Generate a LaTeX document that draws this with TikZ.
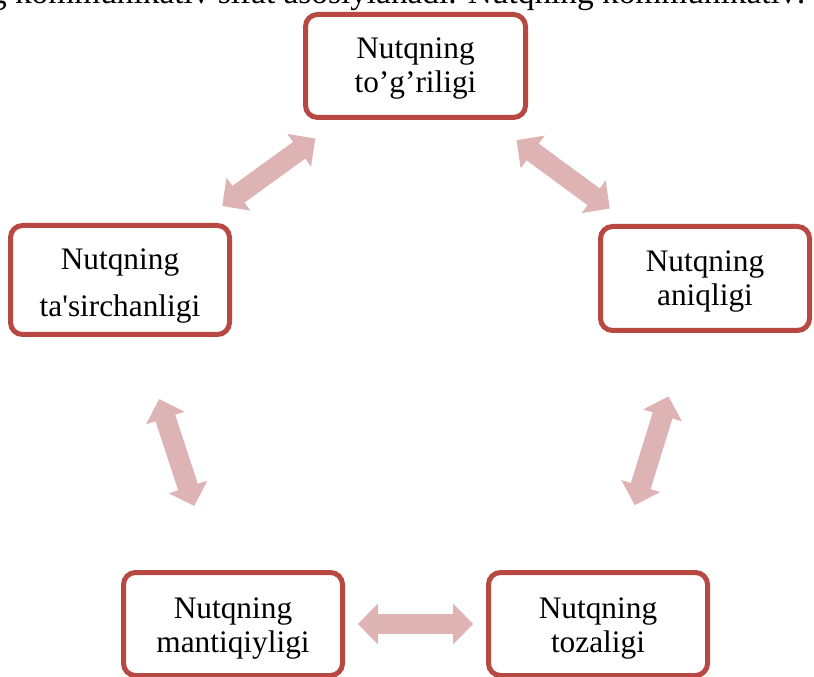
\documentclass[tikz,border=0pt]{standalone}
\usepackage{fontspec}
\setmainfont{Liberation Serif}
\newfontfamily\rawserif{Liberation Serif}
\usetikzlibrary{arrows.meta,calc}
\definecolor{boxred}{RGB}{183,72,66}
\definecolor{arrowpink}{RGB}{221,179,179}
\begin{document}
\begin{tikzpicture}[x=0.75pt,y=-0.75pt,
  box/.style={draw=boxred, line width=3.75pt, rounded corners=9pt, fill=white,
    align=center, inner sep=0pt, font=\fontsize{23.5}{25.5}\selectfont},
  fatarrow/.style={draw=arrowpink, line width=15.5pt,
    {Triangle[length=15pt,width=29.5pt]}-{Triangle[length=15pt,width=29.5pt]}}]
\useasboundingbox (0,0) rectangle (814,677);
\clip (0,0) rectangle (814,677);
\node[anchor=base east, inner sep=0pt, font=\fontsize{25}{27}\selectfont] (head) at (806,3.5)
  {nutqning kommunikativ sifat asosiylanadi. Nutqning kommunikativ:};
\node[box, minimum width=165pt, minimum height=77.25pt] (T) at (415.5,66)
  {\rule{0pt}{20pt}Nutqning\\to’g’riligi};
\node[box, minimum width=164.25pt, minimum height=81.75pt,
  font=\rawserif\fontsize{23.5}{35.25}\selectfont] (L) at (120,280)
  {\rule{0pt}{25pt}Nutqning\\ta'sirchanligi};
\node[box, minimum width=156.75pt, minimum height=78pt] (R) at (705,278.5)
  {\rule{0pt}{20pt}Nutqning\\aniqligi};
\node[box, minimum width=164.25pt, minimum height=77.25pt] (BL) at (233,624)
  {\rule{0pt}{23pt}Nutqning\\mantiqiyligi};
\node[box, minimum width=164.25pt, minimum height=77.25pt] (BR) at (598,624)
  {\rule{0pt}{23pt}Nutqning\\tozaligi};
\draw[fatarrow] ($(L.center)!0.346!(T.center)$) -- ($(L.center)!0.661!(T.center)$);
\draw[fatarrow] ($(T.center)!0.349!(R.center)$) -- ($(T.center)!0.671!(R.center)$);
\draw[fatarrow] ($(L.center)!0.346!(BL.center)$) -- ($(L.center)!0.657!(BL.center)$);
\draw[fatarrow] ($(R.center)!0.341!(BR.center)$) -- ($(R.center)!0.656!(BR.center)$);
\draw[fatarrow] ($(BL.center)!0.342!(BR.center)$) -- ($(BL.center)!0.658!(BR.center)$);
\end{tikzpicture}
\end{document}
